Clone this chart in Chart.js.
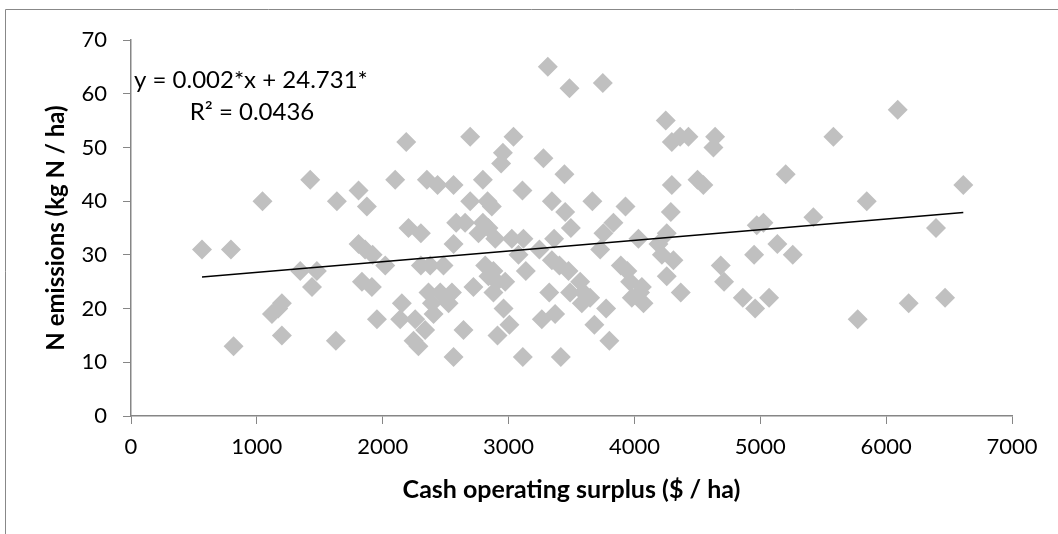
<!DOCTYPE html>
<html>
<head>
<meta charset="utf-8">
<script src="https://cdn.jsdelivr.net/npm/chart.js@4"></script>
<style>
  html, body { margin: 0; padding: 0; background: #fff; }
  #wrap { width: 1058px; height: 534px; }
</style>
</head>
<body>
<div id="wrap"><canvas id="grafico"></canvas></div>
<script>
// surplus ($/ha) and N emissions (kg N/ha)
const surplus = [
  564, 794, 1045, 1424, 1636, 1808, 1874, 2099, 1808, 1860, 1920, 1345, 1477, 1438, 1835, 1914,
  2020, 1199, 1120, 1170, 1199, 815, 1628, 1954,
  2187, 2695, 3039, 2955, 2941, 3277, 3444, 2351, 2436, 2563, 2796, 3110, 2695, 2833, 2867, 3344,
  3450, 3666, 3929, 2205, 2303, 2584, 2655, 2796, 2761, 2840, 2894, 3495, 3833, 3754, 3728, 3026,
  3118, 3079, 3245, 3362, 4032, 2563, 2303, 2377, 2483, 2814, 2880, 3137, 3344, 3404, 3476, 3892,
  3944, 2152, 2364, 2457, 2550, 2391, 2523, 2404, 2721, 2840, 2907, 2973, 2880, 2960, 3007, 2912,
  3323, 3489, 3569, 3595, 3648, 3582, 3775, 3979, 4045, 4072, 2139, 2258, 2337, 2245, 2284, 2642,
  3264, 3370, 3682, 3801, 2563, 3113, 3415, 3312, 3484, 3749,
  4249, 4297, 4363, 4429, 4641, 4628, 5202, 5581, 6092, 4297, 4501, 4548, 5846, 4289, 4257, 4191,
  4218, 4310, 4972, 5025, 5422, 5136, 5258, 4951, 3966, 4059, 4257, 4368, 4686, 4712, 4861, 4959,
  5070, 5774, 6613, 6396, 6179, 6468
];
const emisiones = [
  31, 31, 40, 44, 40, 42, 39, 44, 32, 31, 30, 27, 27, 24, 25, 24,
  28, 21, 19, 20, 15, 13, 14, 18,
  51, 52, 52, 49, 47, 48, 45, 44, 43, 43, 44, 42, 40, 40, 39, 40,
  38, 40, 39, 35, 34, 36, 36, 36, 34, 35, 33, 35, 36, 34, 31, 33,
  33, 30, 31, 33, 33, 32, 28, 28, 28, 28, 27, 27, 29, 28, 27, 28,
  27, 21, 23, 23, 23, 21, 21, 19, 24, 26, 25, 25, 23, 20, 17, 15,
  23, 23, 25, 23, 22, 21, 20, 22, 23, 21, 18, 18, 16, 14, 13, 16,
  18, 19, 17, 14, 11, 11, 11, 65, 61, 62,
  55, 51, 52, 52, 52, 50, 45, 52, 57, 43, 44, 43, 40, 38, 34, 32,
  30, 29, 35.5, 36, 37, 32, 30, 30, 25, 24, 26, 23, 28, 25, 22, 20,
  22, 18, 43, 35, 21, 22
];

// linear trend line end points as drawn
const tendenciaX = [564, 6613];
const tendenciaY = [25.9, 37.9];

const ticksX = [0, 1000, 2000, 3000, 4000, 5000, 6000, 7000];
const ticksY = [0, 10, 20, 30, 40, 50, 60, 70];

const ecuacion = ["y = 0.002*x + 24.731*", "R² = 0.0436"];

const puntos = surplus.map((x, i) => ({ x: x, y: emisiones[i] }));
const lineaTendencia = tendenciaX.map((x, i) => ({ x: x, y: tendenciaY[i] }));

const fuente = "Lato, 'Open Sans', sans-serif";
const gris = "#868686";

// marco del gráfico y texto de la ecuación
const marco = {
  id: "marco",
  beforeDraw(chart) {
    const ctx = chart.ctx;
    ctx.save();
    ctx.fillStyle = "#fff";
    ctx.fillRect(0, 0, chart.width, chart.height);
    ctx.strokeStyle = "#888";
    ctx.lineWidth = 1;
    ctx.beginPath();
    ctx.moveTo(5.5, chart.height);
    ctx.lineTo(5.5, 9.5);
    ctx.lineTo(chart.width, 9.5);
    ctx.stroke();
    ctx.restore();
  },
  afterDraw(chart) {
    const ctx = chart.ctx;
    ctx.save();
    ctx.fillStyle = "#000";
    ctx.font = "24px " + fuente;
    ctx.textBaseline = "middle";
    ctx.textAlign = "left";
    ctx.fillText(ecuacion[0], 134, 80);
    ctx.textAlign = "center";
    ctx.fillText(ecuacion[1], 252, 112);
    ctx.restore();
  }
};

const ctx = document.getElementById("grafico").getContext("2d");
new Chart(ctx, {
  type: "scatter",
  data: {
    datasets: [
      {
        type: "line",
        data: lineaTendencia,
        borderColor: "#000",
        borderWidth: 1.5,
        pointRadius: 0,
        fill: false,
        order: 0
      },
      {
        data: puntos,
        pointStyle: "rectRot",
        pointRadius: 10,
        pointHoverRadius: 10,
        backgroundColor: "#C0C0C0",
        borderColor: "#C0C0C0",
        borderWidth: 0,
        order: 1
      }
    ]
  },
  options: {
    responsive: true,
    maintainAspectRatio: false,
    animation: false,
    events: [],
    layout: { padding: { top: 40, right: 46, left: 0, bottom: 0 } },
    plugins: {
      legend: { display: false },
      tooltip: { enabled: false }
    },
    scales: {
      x: {
        type: "linear",
        min: 0,
        max: 7000,
        afterBuildTicks: s => { s.ticks = ticksX.map(v => ({ value: v })); },
        afterFit: s => { s.height = 118; },
        grid: { drawOnChartArea: false, color: gris, tickLength: 8 },
        border: { color: gris, width: 1.5 },
        ticks: {
          color: "#000",
          font: { family: fuente, size: 22 },
          padding: 10,
          maxRotation: 0,
          callback: v => String(v)
        },
        title: {
          display: true,
          text: "Cash operating surplus ($ / ha)",
          color: "#000",
          font: { family: fuente, size: 25, weight: "bold" },
          padding: { top: 0, bottom: 29 }
        }
      },
      y: {
        type: "linear",
        min: 0,
        max: 70,
        afterBuildTicks: s => { s.ticks = ticksY.map(v => ({ value: v })); },
        afterFit: s => { s.width = 131; },
        grid: { drawOnChartArea: false, color: gris, tickLength: 8 },
        border: { color: gris, width: 1.5 },
        ticks: {
          color: "#000",
          font: { family: fuente, size: 22 },
          padding: 16,
          callback: v => String(v)
        },
        title: {
          display: true,
          text: "N emissions (kg N / ha)",
          color: "#000",
          font: { family: fuente, size: 24, weight: "bold" },
          padding: { top: 42, bottom: 0 }
        }
      }
    }
  },
  plugins: [marco]
});
</script>
</body>
</html>
